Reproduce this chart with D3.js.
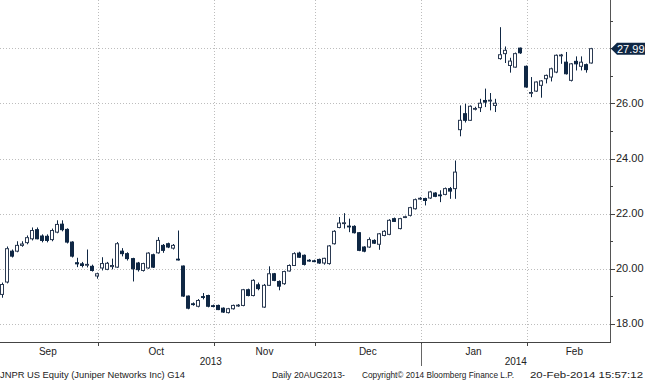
<!DOCTYPE html>
<html><head><meta charset="utf-8">
<script src="https://cdn.jsdelivr.net/npm/d3@7/dist/d3.min.js"></script>
<style>
body{margin:0;background:#fff}
svg{display:block}
text{font-family:"Liberation Sans Narrow","Liberation Sans",Arial,sans-serif;fill:#222}
</style>
</head><body>
<svg id="chart" width="645" height="380"></svg>
<script>
// Daily OHLC, JNPR, 4 Sep 2013 .. 20 Feb 2014 (visible part)
const openP = [
 19.07,19.52,20.64,20.64,20.85,20.95,21.09,21.42,21.19,21.18,
 21.06,21.33,21.62,21.43,20.97,20.22,20.18,20.15,20.09,19.74,
 20.03,19.98,20.08,20.06,20.64,20.55,20.37,20.21,19.94,20.03,
 20.51,20.58,20.85,20.91,20.75,20.35,20.10,19.01,18.73,18.64,
 18.99,19.03,18.66,18.67,18.57,18.41,18.55,18.66,18.67,19.24,
 19.03,19.42,18.61,19.40,19.82,19.54,19.46,19.92,20.12,20.57,
 20.49,20.31,20.29,20.34,20.21,20.19,20.91,21.50,21.65,21.55,
 21.54,21.31,20.79,20.79,21.03,20.89,21.21,21.25,21.82,21.46,
 21.87,21.94,22.18,22.54,22.55,22.57,22.75,22.68,22.70,22.91,
 22.91,25.05,25.63,25.39,25.80,25.85,26.11,26.10,25.93,27.63,
 27.81,27.38,27.32,28.01,27.35,26.38,26.45,26.66,26.90,26.96,
 27.14,27.74,27.50,26.84,27.53,27.35,27.41,27.47];
const highP = [
 19.50,20.81,20.70,21.00,21.00,21.21,21.50,21.50,21.25,21.25,
 21.46,21.76,21.76,21.47,21.00,20.40,20.25,20.70,20.15,19.86,
 20.42,20.25,20.37,20.97,20.75,20.60,20.40,20.25,20.22,20.60,
 20.55,21.15,20.90,20.95,20.90,21.39,20.12,19.03,18.78,18.90,
 19.12,19.06,18.70,18.70,18.60,18.58,18.70,18.72,19.27,19.28,
 19.62,19.50,19.45,20.09,19.85,19.58,19.93,20.16,20.60,20.62,
 20.52,20.35,20.33,20.37,20.40,20.86,21.40,21.88,22.02,21.82,
 21.58,21.33,20.82,21.14,21.07,21.30,21.40,21.80,21.86,21.85,
 21.93,22.25,22.55,22.60,22.58,22.83,22.78,22.85,22.95,22.97,
 23.93,25.93,25.99,25.93,25.88,26.17,26.54,26.38,26.17,28.77,
 28.07,27.66,27.85,28.03,27.38,26.96,26.80,26.85,27.05,27.30,
 27.78,27.80,27.87,27.47,27.71,27.71,27.45,28.02];
const lowP = [
 18.95,19.47,20.41,20.60,20.80,20.89,21.03,21.07,20.96,20.96,
 21.00,21.29,21.36,20.92,20.41,20.06,20.05,20.05,19.90,19.64,
 19.94,19.95,19.98,20.03,20.45,20.30,19.54,19.90,19.90,20.00,
 20.03,20.55,20.58,20.75,20.70,20.30,18.98,18.53,18.66,18.60,
 18.89,18.60,18.60,18.50,18.40,18.38,18.52,18.62,18.64,19.00,
 19.00,19.22,18.58,19.38,19.55,19.22,19.42,19.90,20.10,20.40,
 20.12,20.26,20.24,20.18,20.15,20.15,20.88,21.47,21.46,21.33,
 21.28,20.64,20.60,20.76,20.90,20.69,21.18,21.22,21.70,21.43,
 21.84,21.90,22.15,22.50,22.30,22.54,22.60,22.42,22.67,22.54,
 22.54,24.81,25.31,25.37,25.75,25.69,25.87,25.75,25.69,27.59,
 27.47,27.12,27.30,27.80,26.57,26.23,26.42,26.21,26.73,26.80,
 27.10,27.44,27.05,26.80,27.20,27.20,27.12,27.45];
const closeP = [
 19.43,20.73,20.46,20.85,20.90,21.13,21.39,21.09,21.03,21.03,
 21.39,21.61,21.42,20.97,20.46,20.18,20.12,20.16,19.94,19.82,
 20.19,20.20,20.12,20.91,20.55,20.37,20.00,19.97,20.19,20.57,
 20.06,21.03,20.67,20.79,20.85,20.33,19.01,18.57,18.71,18.85,
 18.98,18.64,18.64,18.52,18.43,18.55,18.67,18.68,19.24,19.03,
 19.58,19.28,19.40,19.82,19.58,19.37,19.90,20.12,20.55,20.42,
 20.16,20.29,20.28,20.21,20.38,20.83,21.36,21.66,21.67,21.53,
 21.31,20.67,20.64,21.06,20.93,21.27,21.36,21.76,21.72,21.82,
 21.89,22.22,22.51,22.56,22.48,22.79,22.63,22.66,22.91,22.82,
 23.51,25.39,25.39,25.90,25.82,26.01,26.05,26.12,26.01,27.77,
 27.93,27.54,27.81,27.84,26.60,26.40,26.78,26.82,27.02,27.26,
 27.75,27.76,27.08,27.44,27.44,27.50,27.23,27.99];

// calendar: index of first trading day of each month (Sep 3 lies just off the left edge)
const monthLabels = ["Sep","Oct","Nov","Dec","Jan","Feb"];
const monthStarts = [-1, 19, 42, 62, 83, 104, 123];
const yearLabels = ["2013","2014"];
const yearStart2014 = 83;
const majorTicks = [18,20,22,24,26,28];
const minorTicks = [19,21,23,25,27,29];
const tickLabels = ["18.00","20.00","22.00","24.00","26.00"];
const lastPriceLabel = "27.99";
const footer = ["JNPR US Equity (Juniper Networks Inc) G14","Daily 20AUG2013-","Copyright\u00A9 2014 Bloomberg Finance L.P.","20-Feb-2014 15:57:12"];

const N = closeP.length;
const W = 645, H = 380;
const plotRight = 610, plotBottom = 342;
const navy = "#0f2744";
const svg = d3.select("#chart");

const x = d3.scaleLinear().domain([0, N-1]).range([2.5, 592]);
const y = d3.scaleLinear().domain([18, 28]).range([323.9, 48.4]);

// horizontal dotted grid
svg.append("g").selectAll("line").data(majorTicks).join("line")
  .attr("x1", 0).attr("x2", plotRight)
  .attr("y1", d => Math.round(y(d)) + 0.5).attr("y2", d => Math.round(y(d)) + 0.5)
  .attr("stroke", "#bdbdbd").attr("stroke-width", 1).attr("stroke-dasharray", "1,2");

// vertical dotted grid at month starts
svg.append("g").selectAll("line").data(monthStarts.slice(1, 6)).join("line")
  .attr("x1", d => Math.round(x(d)) + 0.5).attr("x2", d => Math.round(x(d)) + 0.5)
  .attr("y1", 0).attr("y2", plotBottom)
  .attr("stroke", "#bdbdbd").attr("stroke-width", 1).attr("stroke-dasharray", "1,2");

// candles
const idx = d3.range(N);
const g = svg.append("g");
g.selectAll("line.wick").data(idx).join("line").attr("class","wick")
  .attr("x1", i => Math.round(x(i)) - 0.5).attr("x2", i => Math.round(x(i)) - 0.5)
  .attr("y1", i => y(highP[i])).attr("y2", i => y(lowP[i]))
  .attr("stroke", navy).attr("stroke-width", 1);
g.selectAll("rect.body").data(idx).join("rect").attr("class","body")
  .attr("x", i => Math.round(x(i)) - 2.5)
  .attr("width", 3)
  .attr("y", i => y(Math.max(openP[i], closeP[i])))
  .attr("height", i => Math.max(0.8, Math.abs(y(openP[i]) - y(closeP[i]))))
  .attr("fill", i => closeP[i] >= openP[i] ? "#ffffff" : navy)
  .attr("stroke", i => closeP[i] >= openP[i] ? "#2b3a52" : navy)
  .attr("stroke-width", 1);

// right axis
svg.append("line").attr("x1", plotRight + 0.5).attr("x2", plotRight + 0.5)
  .attr("y1", 0).attr("y2", plotBottom).attr("stroke", "#555").attr("stroke-width", 1);
svg.append("g").selectAll("line").data(majorTicks).join("line")
  .attr("x1", plotRight).attr("x2", plotRight + 5)
  .attr("y1", d => Math.round(y(d)) + 0.5).attr("y2", d => Math.round(y(d)) + 0.5)
  .attr("stroke", "#444");
svg.append("g").selectAll("line").data(minorTicks).join("line")
  .attr("x1", plotRight).attr("x2", plotRight + 3)
  .attr("y1", d => Math.round(y(d)) + 0.5).attr("y2", d => Math.round(y(d)) + 0.5)
  .attr("stroke", "#444");
svg.append("g").selectAll("text").data(tickLabels).join("text")
  .attr("x", 616).attr("y", (d, i) => y(majorTicks[i]) + 3.5)
  .attr("font-size", 11).text(d => d);

// last price box
const ly = y(+lastPriceLabel);
svg.append("path")
  .attr("d", `M${plotRight+1},${ly} L${plotRight+7},${ly-6} L${W},${ly-6} L${W},${ly+6} L${plotRight+7},${ly+6} Z`)
  .attr("fill", navy);
svg.append("text").attr("x", 617).attr("y", ly + 4).attr("font-size", 11)
  .style("fill", "#fff").text(lastPriceLabel);

// bottom axis
svg.append("line").attr("x1", 0).attr("x2", plotRight + 1)
  .attr("y1", plotBottom + 0.5).attr("y2", plotBottom + 0.5).attr("stroke", "#444");
svg.append("g").selectAll("line").data(monthStarts.slice(1, 6)).join("line")
  .attr("x1", d => Math.round(x(d)) + 0.5).attr("x2", d => Math.round(x(d)) + 0.5)
  .attr("y1", plotBottom).attr("y2", plotBottom + 4).attr("stroke", "#444");
svg.append("g").selectAll("text").data(monthLabels).join("text")
  .attr("x", (d, i) => x((monthStarts[i] + monthStarts[i+1]) / 2))
  .attr("y", 355).attr("text-anchor", "middle").attr("font-size", 10).text(d => d);
const yb = Math.round(x(yearStart2014)) + 0.5;
svg.append("line").attr("x1", yb).attr("x2", yb).attr("y1", plotBottom + 2).attr("y2", 366)
  .attr("stroke", "#666");
svg.append("text").attr("x", yb / 2).attr("y", 365).attr("text-anchor", "middle")
  .attr("font-size", 10).text(yearLabels[0]);
svg.append("text").attr("x", (yb + plotRight) / 2).attr("y", 365).attr("text-anchor", "middle")
  .attr("font-size", 10).text(yearLabels[1]);

// footer
const fx = [0, 272, 362, 530];
const fw = [185, 73, 152, 113];
svg.append("g").selectAll("text").data(footer).join("text")
  .attr("x", (d, i) => fx[i]).attr("y", 378).attr("font-size", 9.5)
  .attr("textLength", (d, i) => fw[i]).attr("lengthAdjust", "spacingAndGlyphs")
  .text(d => d);
</script>
</body></html>
